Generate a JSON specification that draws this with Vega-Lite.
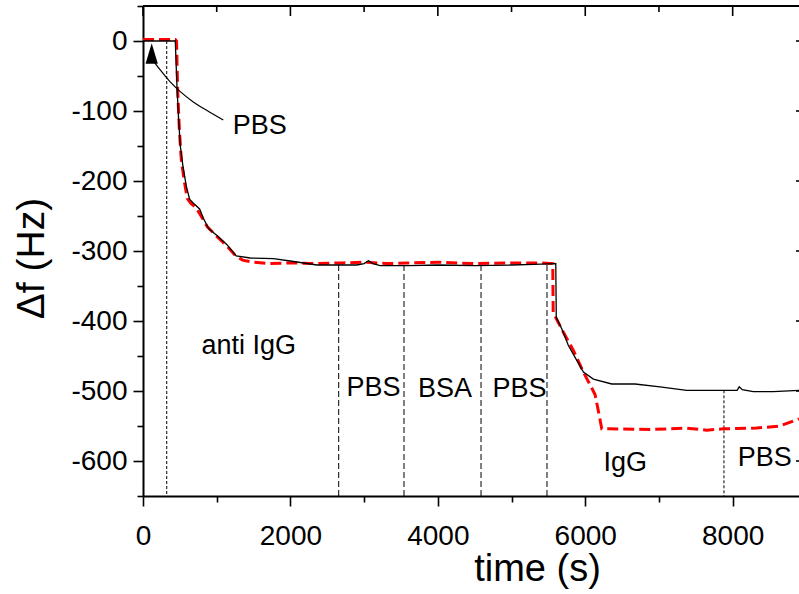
{
  "$schema": "https://vega.github.io/schema/vega-lite/v6.json",
  "width": 656,
  "height": 490,
  "autosize": {"type": "none"},
  "padding": {"left": 143, "top": 6, "right": 0, "bottom": 98},
  "background": "white",
  "config": {
    "view": {"stroke": null},
    "font": "Liberation Sans",
    "axis": {
      "grid": false,
      "domainColor": "black",
      "domainWidth": 2,
      "tickColor": "black",
      "tickWidth": 1.6,
      "labelColor": "black",
      "labelFont": "Liberation Sans",
      "labelFontSize": 28,
      "titleFont": "Liberation Sans",
      "titleColor": "black",
      "titleFontWeight": "normal",
      "labelFlush": false,
      "labelOverlap": false
    }
  },
  "datasets": {
    "black": [
      {"t": 0, "v": 0}, {"t": 200, "v": 0}, {"t": 438, "v": 0}, {"t": 461, "v": -65},
      {"t": 483, "v": -112}, {"t": 506, "v": -150}, {"t": 542, "v": -179}, {"t": 587, "v": -207},
      {"t": 632, "v": -226}, {"t": 696, "v": -233}, {"t": 768, "v": -240}, {"t": 822, "v": -254},
      {"t": 890, "v": -268}, {"t": 1003, "v": -278}, {"t": 1139, "v": -291}, {"t": 1265, "v": -307},
      {"t": 1455, "v": -310}, {"t": 1771, "v": -311}, {"t": 2042, "v": -315}, {"t": 2359, "v": -320},
      {"t": 2653, "v": -320}, {"t": 2900, "v": -320}, {"t": 3000, "v": -318}, {"t": 3059, "v": -314},
      {"t": 3120, "v": -318}, {"t": 3217, "v": -321}, {"t": 3600, "v": -321}, {"t": 4000, "v": -320},
      {"t": 4500, "v": -321}, {"t": 5000, "v": -320}, {"t": 5300, "v": -319}, {"t": 5600, "v": -318},
      {"t": 5607, "v": -395}, {"t": 5681, "v": -411}, {"t": 5771, "v": -435}, {"t": 5862, "v": -452},
      {"t": 5975, "v": -473}, {"t": 6110, "v": -483}, {"t": 6360, "v": -490}, {"t": 6675, "v": -490},
      {"t": 7014, "v": -494}, {"t": 7376, "v": -499}, {"t": 7873, "v": -499}, {"t": 8060, "v": -499},
      {"t": 8090, "v": -494}, {"t": 8130, "v": -498}, {"t": 8280, "v": -501}, {"t": 8551, "v": -501},
      {"t": 8900, "v": -499}
    ],
    "red": [
      {"t": 0, "v": 2}, {"t": 438, "v": 2}, {"t": 455, "v": 0}, {"t": 470, "v": -70},
      {"t": 495, "v": -130}, {"t": 520, "v": -170}, {"t": 560, "v": -200}, {"t": 600, "v": -225},
      {"t": 650, "v": -232}, {"t": 720, "v": -238}, {"t": 800, "v": -252}, {"t": 870, "v": -265},
      {"t": 990, "v": -278}, {"t": 1130, "v": -292}, {"t": 1250, "v": -306}, {"t": 1350, "v": -313},
      {"t": 1500, "v": -316}, {"t": 1700, "v": -318}, {"t": 2000, "v": -317}, {"t": 2300, "v": -318},
      {"t": 2700, "v": -317}, {"t": 3000, "v": -316}, {"t": 3300, "v": -318}, {"t": 3600, "v": -317},
      {"t": 4000, "v": -316}, {"t": 4500, "v": -318}, {"t": 5000, "v": -317}, {"t": 5400, "v": -317},
      {"t": 5559, "v": -318}, {"t": 5565, "v": -388}, {"t": 5703, "v": -416}, {"t": 5839, "v": -442},
      {"t": 5975, "v": -473}, {"t": 6133, "v": -505}, {"t": 6190, "v": -535}, {"t": 6224, "v": -554},
      {"t": 6313, "v": -554}, {"t": 6879, "v": -555}, {"t": 7376, "v": -553}, {"t": 7647, "v": -556},
      {"t": 7873, "v": -554}, {"t": 8325, "v": -553}, {"t": 8641, "v": -550}, {"t": 8900, "v": -540}
    ],
    "rules": [
      {"t": 322, "top": 0, "bottom": -650, "kind": "fine"},
      {"t": 2655, "top": -320, "bottom": -650, "kind": "coarse"},
      {"t": 3541, "top": -320, "bottom": -650, "kind": "coarse"},
      {"t": 4586, "top": -320, "bottom": -650, "kind": "coarse"},
      {"t": 5481, "top": -320, "bottom": -650, "kind": "coarse"},
      {"t": 7882, "top": -499, "bottom": -650, "kind": "fine"}
    ],
    "labels": [
      {"t": 1583, "v": -121, "label": "PBS"},
      {"t": 1434, "v": -436, "label": "anti IgG"},
      {"t": 3127, "v": -496, "label": "PBS"},
      {"t": 4097, "v": -497, "label": "BSA"},
      {"t": 5108, "v": -497, "label": "PBS"},
      {"t": 6543, "v": -603, "label": "IgG"},
      {"t": 8434, "v": -596, "label": "PBS"}
    ],
    "arrow": [
      {"t": 118, "v": -25}, {"t": 231, "v": -41}, {"t": 366, "v": -58}, {"t": 502, "v": -72},
      {"t": 682, "v": -87}, {"t": 864, "v": -99}, {"t": 1089, "v": -113}
    ],
    "head": [{"t": 118, "v": -18}],
    "frame": [{"v": 50}],
    "topticks": [
      {"t": 0, "kind": "major"}, {"t": 1000, "kind": "minor"}, {"t": 2000, "kind": "major"},
      {"t": 3000, "kind": "minor"}, {"t": 4000, "kind": "major"}, {"t": 5000, "kind": "minor"},
      {"t": 6000, "kind": "major"}, {"t": 7000, "kind": "minor"}, {"t": 8000, "kind": "major"}
    ],
    "rightticks": [
      {"v": -600}, {"v": -500}, {"v": -400}, {"v": -300}, {"v": -200}, {"v": -100}, {"v": 0}
    ]
  },
  "layer": [
    {
      "data": {"name": "rules"},
      "mark": {"type": "rule", "color": "black", "strokeWidth": 1},
      "encoding": {
        "x": {"field": "t", "type": "quantitative", "axis": null},
        "y": {"field": "top", "type": "quantitative", "axis": null},
        "y2": {"field": "bottom"},
        "strokeDash": {"field": "kind", "type": "nominal", "scale": {"domain": ["fine", "coarse"], "range": [[3, 2], [6, 3]]}, "legend": null}
      }
    },
    {
      "data": {"name": "frame"},
      "mark": {"type": "rule", "color": "black", "strokeWidth": 2},
      "encoding": {
        "y": {"field": "v", "type": "quantitative", "axis": null}
      }
    },
    {
      "data": {"name": "topticks"},
      "transform": [{"filter": "datum.kind == 'major'"}],
      "mark": {"type": "rule", "color": "black", "strokeWidth": 1.6},
      "encoding": {
        "x": {"field": "t", "type": "quantitative", "axis": null},
        "y": {"datum": 50, "type": "quantitative", "axis": null},
        "y2": {"datum": 35.7}
      }
    },
    {
      "data": {"name": "topticks"},
      "transform": [{"filter": "datum.kind == 'minor'"}],
      "mark": {"type": "rule", "color": "black", "strokeWidth": 1.6},
      "encoding": {
        "x": {"field": "t", "type": "quantitative", "axis": null},
        "y": {"datum": 50, "type": "quantitative", "axis": null},
        "y2": {"datum": 41.4}
      }
    },
    {
      "data": {"name": "rightticks"},
      "mark": {"type": "rule", "color": "black", "strokeWidth": 1.6},
      "encoding": {
        "y": {"field": "v", "type": "quantitative", "axis": null},
        "x": {"datum": 8900, "type": "quantitative", "axis": null},
        "x2": {"datum": 8859}
      }
    },
    {
      "data": {"name": "red"},
      "mark": {"type": "line", "color": "#ff0000", "strokeWidth": 3, "strokeDash": [11, 5], "clip": true},
      "encoding": {
        "x": {"field": "t", "type": "quantitative", "axis": null},
        "y": {"field": "v", "type": "quantitative", "axis": null}
      }
    },
    {
      "data": {"name": "black"},
      "mark": {"type": "line", "color": "black", "strokeWidth": 1.3, "clip": true},
      "encoding": {
        "x": {"field": "t", "type": "quantitative",
          "scale": {"domain": [0, 8900], "nice": false, "zero": false},
          "axis": {"orient": "bottom", "title": "time (s)", "titleFontSize": 38,
            "titleX": 394, "titleY": 84, "titleAlign": "center", "titleBaseline": "alphabetic",
            "values": [0, 1000, 2000, 3000, 4000, 5000, 6000, 7000, 8000],
            "labelExpr": "datum.value % 2000 == 0 ? '' + datum.value : ''",
            "labelBaseline": "alphabetic", "labelPadding": 38,
            "tickSize": {"condition": {"test": "datum.value % 2000 != 0", "value": 6}, "value": 10}}},
        "y": {"field": "v", "type": "quantitative",
          "scale": {"domain": [-650, 50], "nice": false, "zero": false},
          "axis": {"orient": "left", "title": "Δf (Hz)", "titleFontSize": 39,
            "titleX": -100, "titleY": 252, "titleAngle": 270, "titleAlign": "center", "titleBaseline": "alphabetic",
            "values": [-650, -600, -550, -500, -450, -400, -350, -300, -250, -200, -150, -100, -50, 0, 50],
            "labelExpr": "datum.value % 100 == 0 ? '' + datum.value : ''",
            "labelBaseline": "middle", "labelPadding": 6,
            "tickSize": {"condition": {"test": "datum.value % 100 != 0", "value": 6}, "value": 10}}}
      }
    },
    {
      "data": {"name": "labels"},
      "mark": {"type": "text", "align": "center", "baseline": "middle", "fontSize": 27, "font": "Liberation Sans", "color": "black"},
      "encoding": {
        "x": {"field": "t", "type": "quantitative", "axis": null},
        "y": {"field": "v", "type": "quantitative", "axis": null},
        "text": {"field": "label"}
      }
    },
    {
      "data": {"name": "arrow"},
      "mark": {"type": "line", "color": "black", "strokeWidth": 1.2, "interpolate": "monotone"},
      "encoding": {
        "x": {"field": "t", "type": "quantitative", "axis": null},
        "y": {"field": "v", "type": "quantitative", "axis": null}
      }
    },
    {
      "data": {"name": "head"},
      "mark": {"type": "point", "shape": "M0,-1L0.6,1L-0.6,1Z", "filled": true, "color": "black", "size": 420, "opacity": 1},
      "encoding": {
        "x": {"field": "t", "type": "quantitative", "axis": null},
        "y": {"field": "v", "type": "quantitative", "axis": null}
      }
    }
  ],
  "resolve": {"axis": {"x": "independent", "y": "independent"}}
}
